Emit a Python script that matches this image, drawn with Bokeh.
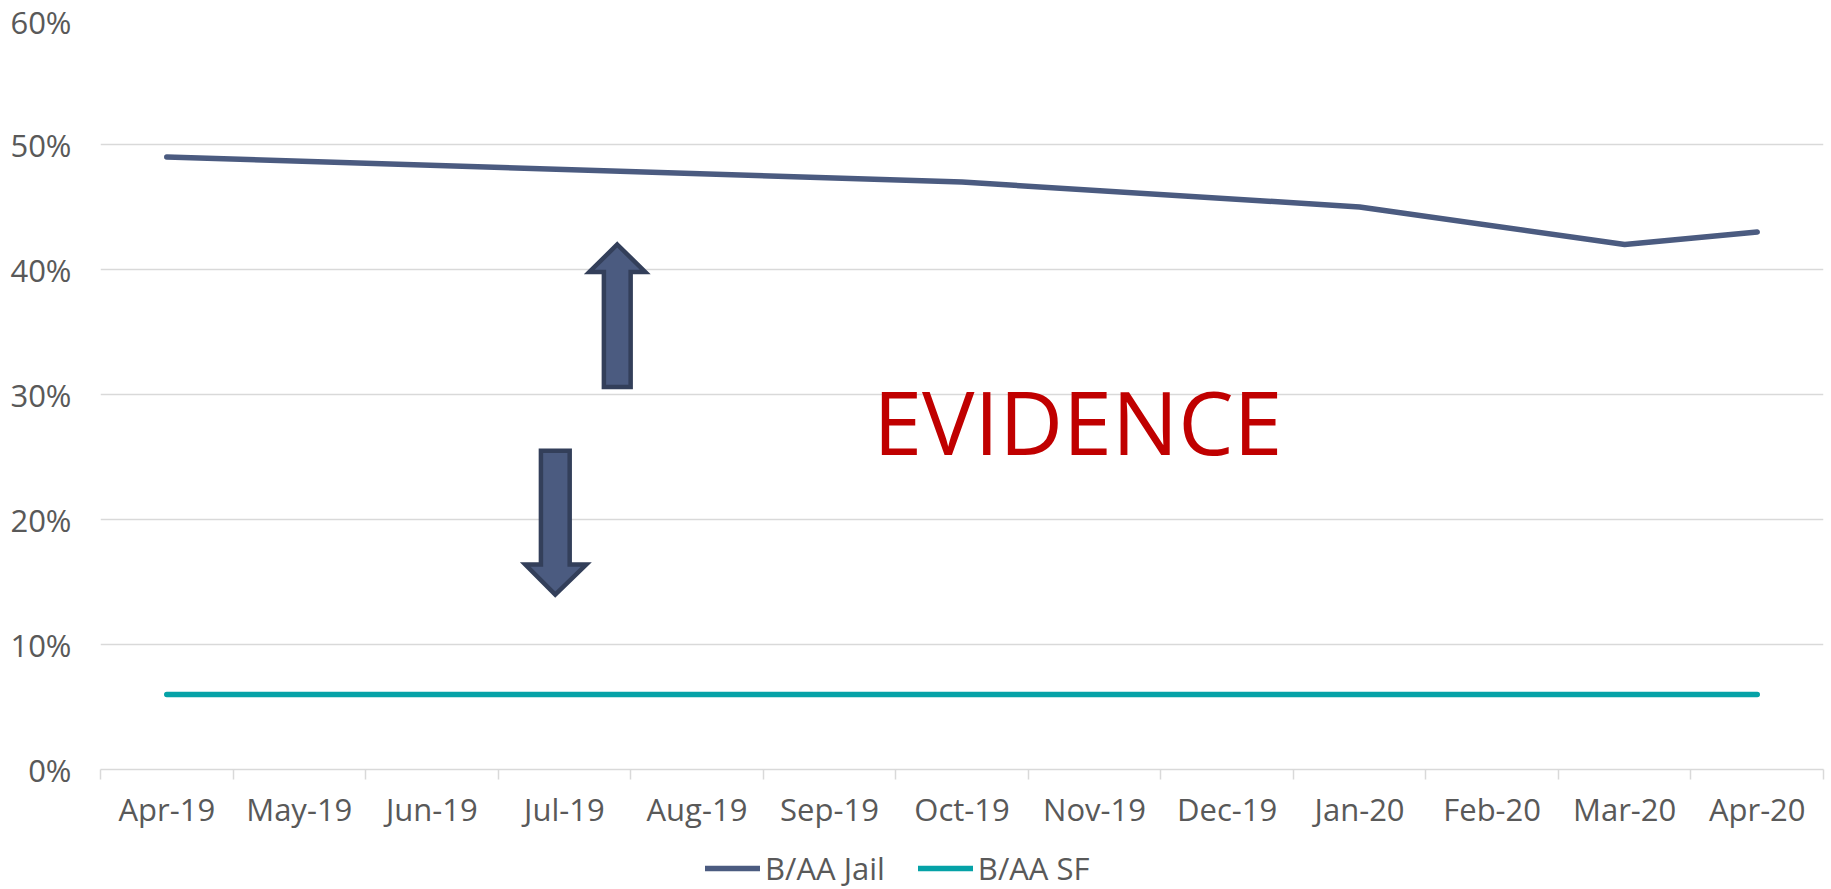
import numpy as np
from bokeh.plotting import figure
from bokeh.layouts import column
from bokeh.models import (FixedTicker, PrintfTickFormatter, Legend, LegendItem,
                          Label)
from bokeh.embed import file_html
from bokeh.resources import INLINE

# ---------------- data ----------------
months = ["Apr-19", "May-19", "Jun-19", "Jul-19", "Aug-19", "Sep-19", "Oct-19",
          "Nov-19", "Dec-19", "Jan-20", "Feb-20", "Mar-20", "Apr-20"]
jail_pct = [49, None, None, None, None, None, 47, None, None, 45, None, 42, 43]
sf_pct = [6, 6, 6, 6, 6, 6, 6, 6, 6, 6, 6, 6, 6]
series_names = ["B/AA Jail", "B/AA SF"]
y_ticks = [0, 10, 20, 30, 40, 50, 60]
annotation_text = "EVIDENCE"

FONT = "Open Sans"
LABEL_COLOR = "#595959"
GRID_COLOR = "#D9D9D9"
JAIL_COLOR = "#4B5B80"
SF_COLOR = "#05A2A7"
ARROW_FILL = "#4B5B80"
ARROW_LINE = "#333F5A"

idx = list(range(len(months)))
jx = [i for i, v in zip(idx, jail_pct) if v is not None]
jy = [v for v in jail_pct if v is not None]

p = figure(width=1831, height=840,
           x_range=(-0.5, len(months) - 0.5), y_range=(0, 60),
           output_backend="svg", toolbar_location=None,
           min_border_left=100, min_border_top=19, min_border_right=8,
           min_border_bottom=71)
p.outline_line_color = None
p.background_fill_color = "white"
p.border_fill_color = "white"

# grid
p.xgrid.grid_line_color = None
p.ygrid.grid_line_color = GRID_COLOR
p.ygrid.grid_line_width = 1.5

# y axis
p.yaxis.ticker = FixedTicker(ticks=y_ticks)
p.yaxis.formatter = PrintfTickFormatter(format="%d%%")
p.yaxis.axis_line_color = None
p.yaxis.major_tick_line_color = None
p.yaxis.minor_tick_line_color = None
p.yaxis.major_tick_out = 0
p.yaxis.major_tick_in = 0
p.yaxis.major_label_text_font = FONT
p.yaxis.major_label_text_font_size = "31px"
p.yaxis.major_label_text_color = LABEL_COLOR
p.yaxis.major_label_standoff = 29

# x axis
boundaries = [i - 0.5 for i in range(len(months) + 1)]
p.xaxis.ticker = FixedTicker(ticks=idx, minor_ticks=boundaries)
p.xaxis.major_label_overrides = {i: m for i, m in zip(idx, months)}
p.xaxis.axis_line_color = GRID_COLOR
p.xaxis.axis_line_width = 1.5
p.xaxis.major_tick_line_color = None
p.xaxis.minor_tick_line_color = GRID_COLOR
p.xaxis.minor_tick_line_width = 1.5
p.xaxis.minor_tick_out = 10
p.xaxis.minor_tick_in = 0
p.xaxis.major_tick_out = 10
p.xaxis.major_tick_in = 0
p.xaxis.major_label_text_font = FONT
p.xaxis.major_label_text_font_size = "31px"
p.xaxis.major_label_text_color = LABEL_COLOR
p.xaxis.major_label_standoff = 8

# series
p.line(jx, jy, line_color=JAIL_COLOR, line_width=5.5, line_cap="round",
       line_join="round")
p.line(idx, sf_pct, line_color=SF_COLOR, line_width=5.5, line_cap="round")

# block arrows (annotations)
up_x = [3.399, 3.610, 3.500, 3.500, 3.298, 3.298, 3.188]
up_y = [42.0, 39.8, 39.8, 30.6, 30.6, 39.8, 39.8]
dn_x = [2.823, 3.040, 3.040, 3.165, 2.931, 2.705, 2.823]
dn_y = [25.5, 25.5, 16.4, 16.4, 14.0, 16.4, 16.4]
p.patch(up_x, up_y, fill_color=ARROW_FILL, line_color=ARROW_LINE, line_width=4.5,
        line_join="miter")
p.patch(dn_x, dn_y, fill_color=ARROW_FILL, line_color=ARROW_LINE, line_width=4.5,
        line_join="miter")

p.add_layout(Label(x=5.33, y=27.9, text=annotation_text, text_font=FONT,
                   text_font_size="88px", text_color="#C00000",
                   text_baseline="alphabetic", text_align="left"))

# ---------------- legend strip ----------------
p2 = figure(width=1831, height=49, x_range=(-100, -99), y_range=(-100, -99),
            output_backend="svg", toolbar_location=None,
            x_axis_location=None, y_axis_location=None,
            min_border_left=0, min_border_right=0, min_border_top=0,
            min_border_bottom=0)
p2.outline_line_color = None
p2.xgrid.grid_line_color = None
p2.ygrid.grid_line_color = None
# same series drawn off-view; only their legend swatches are seen
lj = p2.line(jx, jy, line_color=JAIL_COLOR, line_width=5.5, line_cap="round")
ls = p2.line(idx, sf_pct, line_color=SF_COLOR, line_width=5.5, line_cap="round")
legend = Legend(items=[LegendItem(label=series_names[0], renderers=[lj]),
                       LegendItem(label=series_names[1], renderers=[ls])],
                orientation="horizontal", location=(605, 0))
legend.label_text_font = FONT
legend.label_text_font_size = "31px"
legend.label_text_color = LABEL_COLOR
legend.glyph_width = 55
legend.glyph_height = 20
legend.label_standoff = 5
legend.spacing = 33
legend.padding = 0
legend.margin = 0
legend.border_line_color = None
legend.background_fill_alpha = 0
p2.add_layout(legend, "center")

layout = column(p, p2, spacing=0)
open("out.html", "w").write(file_html(layout, INLINE))
